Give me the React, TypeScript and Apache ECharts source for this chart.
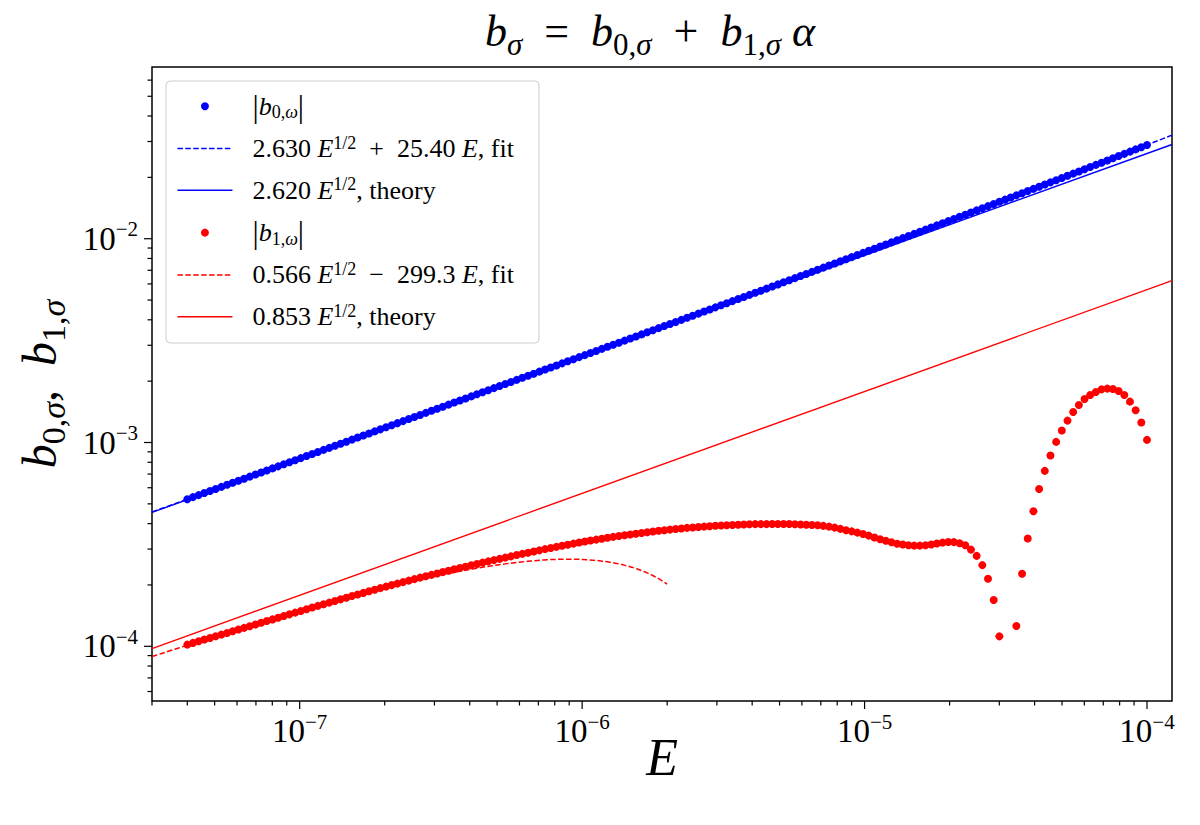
import React, { useEffect, useRef } from "react";
import * as echarts from "echarts";

// Energy sampling grid: 170 log-spaced points from 4e-8 to 1e-4
const E_FIRST = 4e-8;
const E_LAST = 1e-4;
const E_COUNT = 170;

// |b_{0,omega}| at each energy of the grid
const b0Values = [
  5.270e-4, 5.394e-4, 5.520e-4, 5.650e-4, 5.782e-4, 5.918e-4, 6.057e-4, 6.199e-4, 6.345e-4, 6.493e-4,
  6.646e-4, 6.802e-4, 6.962e-4, 7.126e-4, 7.292e-4, 7.464e-4, 7.639e-4, 7.818e-4, 8.002e-4, 8.190e-4,
  8.383e-4, 8.580e-4, 8.781e-4, 8.987e-4, 9.199e-4, 9.415e-4, 9.636e-4, 9.863e-4, 1.0094e-3, 1.0332e-3,
  1.0575e-3, 1.0824e-3, 1.1078e-3, 1.1339e-3, 1.1605e-3, 1.1878e-3, 1.2158e-3, 1.2443e-3, 1.2736e-3, 1.3036e-3,
  1.3343e-3, 1.3657e-3, 1.3978e-3, 1.4307e-3, 1.4645e-3, 1.4989e-3, 1.5341e-3, 1.5703e-3, 1.6073e-3, 1.6452e-3,
  1.6840e-3, 1.7236e-3, 1.7643e-3, 1.8058e-3, 1.8484e-3, 1.8920e-3, 1.9366e-3, 1.9823e-3, 2.0291e-3, 2.0769e-3,
  2.1259e-3, 2.1761e-3, 2.2275e-3, 2.2801e-3, 2.3340e-3, 2.3891e-3, 2.4455e-3, 2.5033e-3, 2.5625e-3, 2.6230e-3,
  2.6851e-3, 2.7486e-3, 2.8136e-3, 2.8801e-3, 2.9483e-3, 3.0181e-3, 3.0896e-3, 3.1628e-3, 3.2377e-3, 3.3144e-3,
  3.3930e-3, 3.4735e-3, 3.5559e-3, 3.6402e-3, 3.7266e-3, 3.8150e-3, 3.9057e-3, 3.9985e-3, 4.0935e-3, 4.1907e-3,
  4.2903e-3, 4.3924e-3, 4.4969e-3, 4.6039e-3, 4.7136e-3, 4.8258e-3, 4.9408e-3, 5.0586e-3, 5.1792e-3, 5.3027e-3,
  5.4294e-3, 5.5591e-3, 5.6919e-3, 5.8280e-3, 5.9673e-3, 6.1101e-3, 6.2563e-3, 6.4061e-3, 6.5596e-3, 6.7168e-3,
  6.8779e-3, 7.0430e-3, 7.2121e-3, 7.3853e-3, 7.5628e-3, 7.7448e-3, 7.9311e-3, 8.1221e-3, 8.3177e-3, 8.5183e-3,
  8.7238e-3, 8.9344e-3, 9.1503e-3, 9.3715e-3, 9.5982e-3, 9.8306e-3, 1.0069e-2, 1.0313e-2, 1.0563e-2, 1.0820e-2,
  1.1083e-2, 1.1352e-2, 1.1629e-2, 1.1912e-2, 1.2202e-2, 1.2500e-2, 1.2805e-2, 1.3119e-2, 1.3440e-2, 1.3769e-2,
  1.4107e-2, 1.4453e-2, 1.4808e-2, 1.5172e-2, 1.5546e-2, 1.5929e-2, 1.6322e-2, 1.6725e-2, 1.7139e-2, 1.7564e-2,
  1.7999e-2, 1.8446e-2, 1.8904e-2, 1.9374e-2, 1.9857e-2, 2.0353e-2, 2.0861e-2, 2.1383e-2, 2.1919e-2, 2.2469e-2,
  2.3033e-2, 2.3613e-2, 2.4208e-2, 2.4819e-2, 2.5446e-2, 2.6091e-2, 2.6752e-2, 2.7432e-2, 2.8130e-2, 2.8847e-2,
];

// |b_{1,omega}| at each energy of the grid (null: too small to show)
const b1Values: (number | null)[] = [
  1.019e-4, 1.039e-4, 1.059e-4, 1.079e-4, 1.099e-4, 1.120e-4, 1.141e-4, 1.163e-4, 1.186e-4, 1.209e-4,
  1.231e-4, 1.255e-4, 1.279e-4, 1.304e-4, 1.330e-4, 1.355e-4, 1.381e-4, 1.408e-4, 1.435e-4, 1.463e-4,
  1.491e-4, 1.520e-4, 1.549e-4, 1.579e-4, 1.608e-4, 1.638e-4, 1.669e-4, 1.700e-4, 1.732e-4, 1.764e-4,
  1.796e-4, 1.828e-4, 1.861e-4, 1.895e-4, 1.929e-4, 1.963e-4, 1.997e-4, 2.031e-4, 2.065e-4, 2.100e-4,
  2.136e-4, 2.172e-4, 2.206e-4, 2.241e-4, 2.277e-4, 2.313e-4, 2.350e-4, 2.387e-4, 2.423e-4, 2.459e-4,
  2.497e-4, 2.534e-4, 2.573e-4, 2.611e-4, 2.648e-4, 2.686e-4, 2.724e-4, 2.763e-4, 2.803e-4, 2.842e-4,
  2.879e-4, 2.918e-4, 2.957e-4, 2.997e-4, 3.037e-4, 3.076e-4, 3.113e-4, 3.151e-4, 3.189e-4, 3.228e-4,
  3.267e-4, 3.302e-4, 3.337e-4, 3.372e-4, 3.408e-4, 3.443e-4, 3.479e-4, 3.510e-4, 3.540e-4, 3.570e-4,
  3.600e-4, 3.630e-4, 3.662e-4, 3.687e-4, 3.712e-4, 3.736e-4, 3.762e-4, 3.787e-4, 3.812e-4, 3.830e-4,
  3.848e-4, 3.865e-4, 3.883e-4, 3.901e-4, 3.918e-4, 3.928e-4, 3.938e-4, 3.948e-4, 3.958e-4, 3.968e-4,
  3.975e-4, 3.977e-4, 3.978e-4, 3.980e-4, 3.982e-4, 3.983e-4, 3.980e-4, 3.970e-4, 3.961e-4, 3.951e-4,
  3.940e-4, 3.925e-4, 3.900e-4, 3.866e-4, 3.821e-4, 3.769e-4, 3.714e-4, 3.665e-4, 3.611e-4, 3.559e-4,
  3.491e-4, 3.421e-4, 3.349e-4, 3.297e-4, 3.241e-4, 3.187e-4, 3.159e-4, 3.134e-4, 3.120e-4, 3.120e-4,
  3.130e-4, 3.159e-4, 3.194e-4, 3.227e-4, 3.249e-4, 3.245e-4, 3.205e-4, 3.134e-4, 2.982e-4, 2.778e-4,
  2.502e-4, 2.144e-4, 1.687e-4, 1.119e-4, null, null, 1.258e-4, 2.270e-4, 3.380e-4, 4.600e-4,
  5.910e-4, 7.260e-4, 8.640e-4, 1.007e-3, 1.145e-3, 1.281e-3, 1.412e-3, 1.528e-3, 1.634e-3, 1.710e-3,
  1.769e-3, 1.823e-3, 1.838e-3, 1.829e-3, 1.788e-3, 1.710e-3, 1.587e-3, 1.439e-3, 1.253e-3, 1.030e-3,
];

// Fit coefficients, as quoted in the legend: a E^{1/2} + c E
const FIT0_SQRT = 2.63;
const FIT0_LIN = 25.4;
const FIT1_SQRT = 0.566;
const FIT1_LIN = -299.3;
const FIT1_E_END = 2e-6;

// Theory coefficients quoted in the legend
const THEORY0_COEF = 2.62;
const THEORY1_COEF = 0.853;

// Theory lines (straight on log-log): values at both ends of the E range
const theoryE = [3.0e-8, 1.226e-4];
const theory0Values = [4.54e-4, 2.9e-2];
const theory1Values = [9.75e-5, 6.23e-3];

// Axis ranges
const X_MIN = 3.0e-8;
const X_MAX = 1.226e-4;
const Y_MIN = 5.39e-5;
const Y_MAX = 6.96e-2;

// Tick positions
const xMajorTicks = [1e-7, 1e-6, 1e-5, 1e-4];
const xMinorTicks = [
  3e-8, 4e-8, 5e-8, 6e-8, 7e-8, 8e-8, 9e-8,
  2e-7, 3e-7, 4e-7, 5e-7, 6e-7, 7e-7, 8e-7, 9e-7,
  2e-6, 3e-6, 4e-6, 5e-6, 6e-6, 7e-6, 8e-6, 9e-6,
  2e-5, 3e-5, 4e-5, 5e-5, 6e-5, 7e-5, 8e-5, 9e-5,
];
const yMajorTicks = [1e-4, 1e-3, 1e-2];
const yMinorTicks = [
  6e-5, 7e-5, 8e-5, 9e-5,
  2e-4, 3e-4, 4e-4, 5e-4, 6e-4, 7e-4, 8e-4, 9e-4,
  2e-3, 3e-3, 4e-3, 5e-3, 6e-3, 7e-3, 8e-3, 9e-3,
  2e-2, 3e-2, 4e-2, 5e-2, 6e-2,
];

const SERIF = "'Liberation Serif', 'DejaVu Serif', serif";
const BLUE = "#0000ff";
const RED = "#ff0000";

const GRID = { left: 152, top: 67, width: 1020, height: 634 };

const energies = Array.from({ length: E_COUNT }, (_, i) =>
  E_FIRST * Math.pow(E_LAST / E_FIRST, i / (E_COUNT - 1))
);

const toPoints = (vals: (number | null)[]) =>
  energies
    .map((e, i) => [e, vals[i]] as [number, number | null])
    .filter((p) => p[1] !== null);

const fitCurve = (a: number, c: number, e0: number, e1: number, n: number) =>
  Array.from({ length: n }, (_, k) => {
    const e = e0 * Math.pow(e1 / e0, k / (n - 1));
    return [e, a * Math.sqrt(e) + c * e];
  });

const decadeLabel = (v: number) => {
  const p = Math.log10(v);
  const r = Math.round(p);
  if (Math.abs(p - r) > 1e-6) return "";
  return `{m|10}{e|${r < 0 ? "\u2212" : ""}${Math.abs(r)}}`;
};

const tickRich = {
  m: { fontFamily: SERIF, fontSize: 33, lineHeight: 40, color: "#000" },
  e: { fontFamily: SERIF, fontSize: 21, lineHeight: 21, verticalAlign: "top", color: "#000" },
};

const legendRich = {
  g: { width: 15, fontSize: 26, lineHeight: 30 },
  n: { fontFamily: SERIF, fontSize: 26, lineHeight: 30, color: "#000" },
  bar: { fontFamily: SERIF, fontSize: 31, lineHeight: 30, color: "#000" },
  i: { fontFamily: SERIF, fontStyle: "italic", fontSize: 26, lineHeight: 30, color: "#000" },
  sup: { fontFamily: SERIF, fontSize: 18, lineHeight: 19, verticalAlign: "top", color: "#000" },
  sub: { fontFamily: SERIF, fontSize: 18, lineHeight: 20, verticalAlign: "bottom", color: "#000" },
  subi: { fontFamily: SERIF, fontStyle: "italic", fontSize: 18, lineHeight: 20, verticalAlign: "bottom", color: "#000" },
};

const legendLabels: Record<string, string> = {
  b0: "{g| }{bar||}{i|b}{sub|0,}{subi|\u03c9}{bar||}",
  fit0: `{g| }{n|${FIT0_SQRT.toFixed(3)} }{i|E}{sup|1/2}{n|  +  ${FIT0_LIN.toFixed(2)} }{i|E}{n|, fit}`,
  theory0: `{g| }{n|${THEORY0_COEF.toFixed(3)} }{i|E}{sup|1/2}{n|, theory}`,
  b1: "{g| }{bar||}{i|b}{sub|1,}{subi|\u03c9}{bar||}",
  fit1: `{g| }{n|${FIT1_SQRT.toFixed(3)} }{i|E}{sup|1/2}{n|  \u2212  ${Math.abs(FIT1_LIN).toFixed(1)} }{i|E}{n|, fit}`,
  theory1: `{g| }{n|${THEORY1_COEF.toFixed(3)} }{i|E}{sup|1/2}{n|, theory}`,
};

const mathRich = (size: number, subSize: number) => ({
  n: { fontFamily: SERIF, fontSize: size, lineHeight: Math.round(size * 1.3), color: "#000" },
  i: { fontFamily: SERIF, fontStyle: "italic", fontSize: size, lineHeight: Math.round(size * 1.3), color: "#000" },
  sub: { fontFamily: SERIF, fontSize: subSize, lineHeight: Math.round(subSize * 1.05), verticalAlign: "bottom", color: "#000" },
  subi: { fontFamily: SERIF, fontStyle: "italic", fontSize: subSize, lineHeight: Math.round(subSize * 1.05), verticalAlign: "bottom", color: "#000" },
});

export default function App() {
  const ref = useRef<HTMLDivElement>(null);

  useEffect(() => {
    if (!ref.current) return;
    const chart = echarts.init(ref.current, undefined, { renderer: "svg" });

    const tickSeries = (data: number[][], vertical: boolean) => ({
      type: "custom",
      silent: true,
      clip: false,
      z: 10,
      data,
      renderItem: (_params: any, api: any) => {
        const p = api.coord([api.value(0), api.value(1)]);
        const len = api.value(2);
        const shape = vertical
          ? { x1: p[0], y1: p[1], x2: p[0], y2: p[1] + len }
          : { x1: p[0] - len, y1: p[1], x2: p[0], y2: p[1] };
        return { type: "line", shape, style: { stroke: "#000", lineWidth: 1.2 } };
      },
    });

    const hiddenIcon = { opacity: 0 };

    chart.setOption({
      animation: false,
      backgroundColor: "#ffffff",
      grid: { ...GRID, show: true, borderColor: "#000", borderWidth: 1.5, backgroundColor: "transparent" },
      xAxis: {
        type: "log",
        logBase: 10,
        min: X_MIN,
        max: X_MAX,
        axisLine: { show: false },
        axisTick: { show: false },
        splitLine: { show: false },
        axisLabel: { formatter: decadeLabel, rich: tickRich, margin: 10, showMinLabel: false, showMaxLabel: false },
        name: "E",
        nameLocation: "middle",
        nameGap: 28,
        nameMoveOverlap: false,
        nameTextStyle: { fontFamily: SERIF, fontStyle: "italic", fontSize: 52, lineHeight: 56, color: "#000" },
      },
      yAxis: {
        type: "log",
        logBase: 10,
        min: Y_MIN,
        max: Y_MAX,
        axisLine: { show: false },
        axisTick: { show: false },
        splitLine: { show: false },
        axisLabel: { formatter: decadeLabel, rich: tickRich, margin: 14, showMinLabel: false, showMaxLabel: false },
        name: "{i|b}{sub|0,}{subi|\u03c3}{n|,  }{i|b}{sub|1,}{subi|\u03c3}",
        nameLocation: "middle",
        nameGap: 82,
        nameMoveOverlap: false,
        nameTextStyle: { rich: mathRich(48, 34) },
      },
      legend: {
        orient: "vertical",
        left: 176.7,
        top: 90.7,
        padding: 0,
        itemGap: 11.8,
        itemWidth: 55,
        itemHeight: 8,
        selectedMode: false,
        formatter: (name: string) => legendLabels[name],
        textStyle: { fontFamily: SERIF, fontSize: 26, lineHeight: 30, rich: legendRich },
        lineStyle: { width: 1.5 },
        data: [
          { name: "b0" },
          { name: "fit0", itemStyle: hiddenIcon },
          { name: "theory0", itemStyle: hiddenIcon },
          { name: "b1" },
          { name: "fit1", itemStyle: hiddenIcon },
          { name: "theory1", itemStyle: hiddenIcon },
        ],
      },
      graphic: [
        {
          type: "rect",
          z: -1,
          shape: { x: 166, y: 81, width: 373, height: 262, r: 4 },
          style: { fill: "rgba(255,255,255,0.8)", stroke: "#cccccc", lineWidth: 1 },
        },
        {
          type: "text",
          x: 650,
          y: 31,
          style: {
            text: "{i|b}{subi|\u03c3}{n|  =  }{i|b}{sub|0,}{subi|\u03c3}{n|  +  }{i|b}{sub|1,}{subi|\u03c3}{n| }{i|\u03b1}",
            rich: mathRich(44, 31),
            align: "center",
            verticalAlign: "middle",
          },
        },
      ],
      series: [
        {
          name: "b0",
          type: "scatter",
          symbol: "circle",
          symbolSize: 8,
          itemStyle: { color: BLUE, opacity: 1 },
          data: toPoints(b0Values),
        },
        {
          name: "fit0",
          type: "line",
          symbol: "none",
          showSymbol: false,
          lineStyle: { color: BLUE, width: 1.5, type: [5.5, 2.4] },
          itemStyle: { color: BLUE },
          data: fitCurve(FIT0_SQRT, FIT0_LIN, X_MIN, X_MAX, 80),
        },
        {
          name: "theory0",
          type: "line",
          symbol: "none",
          showSymbol: false,
          lineStyle: { color: BLUE, width: 1.4, type: "solid" },
          itemStyle: { color: BLUE },
          data: theoryE.map((e, i) => [e, theory0Values[i]]),
        },
        {
          name: "b1",
          type: "scatter",
          symbol: "circle",
          symbolSize: 8,
          itemStyle: { color: RED, opacity: 1 },
          data: toPoints(b1Values),
        },
        {
          name: "fit1",
          type: "line",
          symbol: "none",
          showSymbol: false,
          lineStyle: { color: RED, width: 1.5, type: [5.5, 2.4] },
          itemStyle: { color: RED },
          data: fitCurve(FIT1_SQRT, FIT1_LIN, X_MIN, FIT1_E_END, 160),
        },
        {
          name: "theory1",
          type: "line",
          symbol: "none",
          showSymbol: false,
          lineStyle: { color: RED, width: 1.4, type: "solid" },
          itemStyle: { color: RED },
          data: theoryE.map((e, i) => [e, theory1Values[i]]),
        },
        tickSeries(
          [...xMajorTicks.map((v) => [v, Y_MIN, 8]), ...xMinorTicks.map((v) => [v, Y_MIN, 4.5])],
          true
        ),
        tickSeries(
          [...yMajorTicks.map((v) => [X_MIN, v, 8]), ...yMinorTicks.map((v) => [X_MIN, v, 4.5])],
          false
        ),
      ],
    });

    return () => chart.dispose();
  }, []);

  return (
    <div
      ref={ref}
      style={{ position: "fixed", left: 0, top: 0, width: 1200, height: 825, background: "#ffffff" }}
    />
  );
}
